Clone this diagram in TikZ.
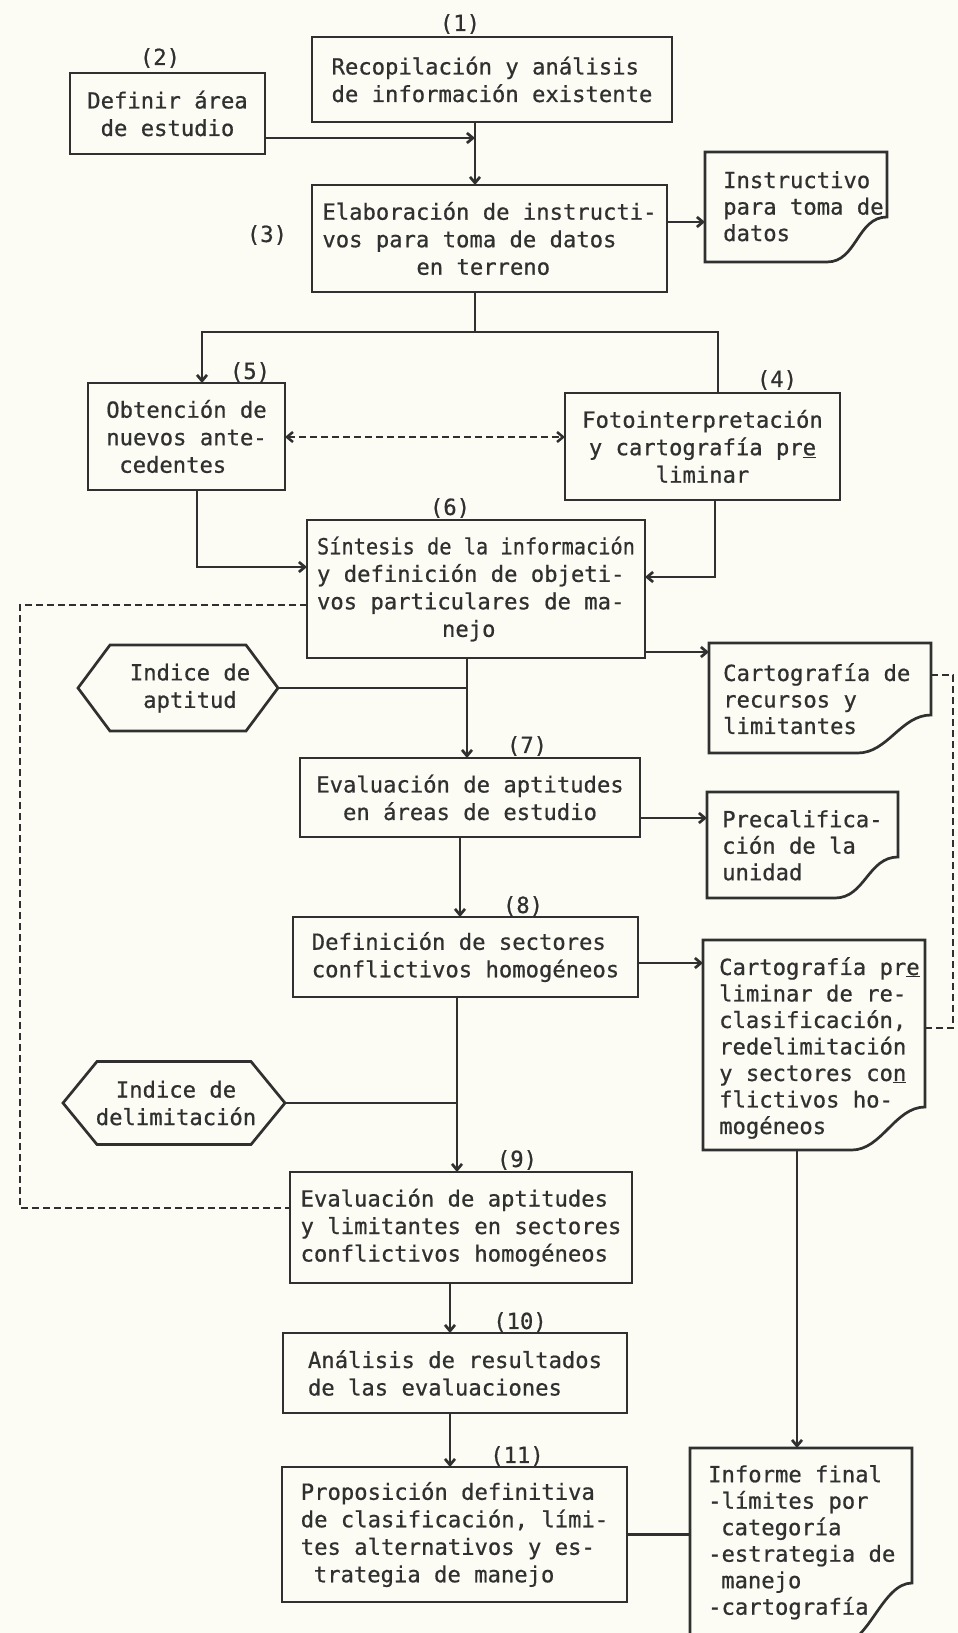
\documentclass[tikz,border=0pt]{standalone}
\usepackage{fontspec}
\usepackage{graphicx}
\newfontfamily\mono[FakeBold=0.7]{DejaVu Sans Mono}
\usetikzlibrary{arrows.meta,calc}
\definecolor{ink}{RGB}{48,48,48}
\definecolor{paper}{RGB}{252,252,245}
\newcommand\boxfont{\mono\fontsize{22.2}{27.5}\selectfont}
\newcommand\docfont{\mono\fontsize{22.2}{26.5}\selectfont}
\tikzset{
 ln/.style={draw=ink, line width=2.7pt},
 tipb/.tip={Straight Barb[length=6pt,width=10pt]},
 arr/.style={ln, -tipb},
 dsh/.style={ln, line width=2.5pt, dash pattern=on 7pt off 4pt},
 box/.style={draw=ink, line width=2.7pt, font=\boxfont, text=ink, inner sep=0pt, outer sep=0pt},
 shp/.style={inner sep=0pt, outer sep=0pt},
 txt/.style={font=\docfont, text=ink, align=left, inner sep=0pt},
 num/.style={font=\boxfont, text=ink, inner sep=0pt},
}
\newcommand\docoutline[2]{%
  \draw[ln] (#1.north west) -- (#1.north east) -- ([yshift=#2]#1.south east)
    .. controls ([xshift=-30pt,yshift=#2]#1.south east) and ($(#1.south west)!0.67!(#1.south east)+(30pt,0)$)
    .. ($(#1.south west)!0.67!(#1.south east)$) -- (#1.south west) -- cycle;}
\newcommand\hexoutline[2]{%
  \draw[ln] (#1.west) -- ([xshift=#2]#1.north west) -- ([xshift=-#2]#1.north east) -- (#1.east)
    -- ([xshift=-#2]#1.south east) -- ([xshift=#2]#1.south west) -- cycle;}
\begin{document}
\begin{tikzpicture}[x=1pt,y=-1pt]
\fill[paper] (0,0) rectangle (958,1633);
\useasboundingbox (0,0) rectangle (958,1633);

% process boxes
\node[box, align=left, minimum width=360, minimum height=85] (b1) at (492,79.5) {Recopilación y análisis\\de información existente};
\node[box, align=center, minimum width=195, minimum height=81] (b2) at (167.5,113.5) {Definir área\\de estudio};
\node[box, align=left, minimum width=355, minimum height=107] (b3) at (489.5,238.5) {Elaboración de instructi-\\vos para toma de datos\\\hspace*{94pt}en terreno};
\node[box, align=left, minimum width=197, minimum height=107] (b5) at (186.5,436.5) {Obtención de\\nuevos ante-\\\hspace*{13pt}cedentes};
\node[box, align=center, minimum width=275, minimum height=107] (b4) at (702.5,446.5) {Fotointerpretación\\y cartografía pr\underline{e}\\liminar};
\node[box, align=left, minimum width=338, minimum height=138] (b6) at (476,589) {\scalebox{0.915}[1]{Síntesis de la información}\\y definición de objeti-\\vos particulares de ma-\\\hspace*{125pt}nejo};
\node[box, align=center, minimum width=340, minimum height=79] (b7) at (470,797.5) {Evaluación de aptitudes\\en áreas de estudio};
\node[box, align=left, minimum width=345, minimum height=80] (b8) at (465.5,957) {Definición de sectores\\conflictivos homogéneos};
\node[box, align=left, minimum width=342, minimum height=111] (b9) at (461,1227.5) {Evaluación de aptitudes\\y limitantes en sectores\\conflictivos homogéneos};
\node[box, align=left, minimum width=344, minimum height=80] (b10) at (455,1373) {Análisis de resultados\\de las evaluaciones};
\node[box, align=left, minimum width=345, minimum height=135] (b11) at (454.5,1534.5) {Proposición definitiva\\de clasificación, lími-\\tes alternativos y es-\\\hspace*{13pt}trategia de manejo};

% step numbers
\node[num] (n1) at (460,24) {(1)};
\node[num] (n2) at (160,58) {(2)};
\node[num] (n3) at (267,235) {(3)};
\node[num] (n4) at (777,380) {(4)};
\node[num] (n5) at (250,372) {(5)};
\node[num] (n6) at (450,508) {(6)};
\node[num] (n7) at (527,746) {(7)};
\node[num] (n8) at (523,906) {(8)};
\node[num] (n9) at (517,1160) {(9)};
\node[num] (n10) at (520,1322) {(10)};
\node[num] (n11) at (517,1456) {(11)};

% documents
\node[shp, minimum width=182, minimum height=110] (d1) at (796,207) {};
\docoutline{d1}{45pt}
\node[txt, anchor=north west] (d1t) at (723,171) {Instructivo\\para toma de\\datos};
\node[shp, minimum width=222, minimum height=110] (d2) at (820,698) {};
\docoutline{d2}{38pt}
\node[txt, anchor=north west] (d2t) at (723,663) {Cartografía de\\recursos y\\limitantes};
\node[shp, minimum width=191, minimum height=106] (d3) at (802.5,845) {};
\docoutline{d3}{41pt}
\node[txt, anchor=north west] (d3t) at (722,810) {Precalifica-\\ción de la\\unidad};
\node[shp, minimum width=222, minimum height=210] (d4) at (814,1045) {};
\docoutline{d4}{43pt}
\node[txt, anchor=north west] (d4t) at (719,957) {Cartografía pr\underline{e}\\liminar de re-\\clasificación,\\redelimitación\\y sectores co\underline{n}\\flictivos ho-\\mogéneos};
\node[shp, minimum width=222, minimum height=197] (d5) at (801,1546.5) {};
\docoutline{d5}{62pt}
\node[txt, anchor=north west] (d5t) at (708,1465) {Informe final\\-límites por\\\hspace*{13pt}categoría\\-estrategia de\\\hspace*{13pt}manejo\\-cartografía};

% hexagons
\node[shp, minimum width=200, minimum height=86] (h1) at (178,688) {};
\hexoutline{h1}{32pt}
\node[num, align=center] (h1t) at (190,688) {Indice de\\aptitud};
\node[shp, minimum width=222, minimum height=83] (h2) at (174,1103) {};
\hexoutline{h2}{34pt}
\node[num, align=center] (h2t) at (176,1103) {Indice de\\delimitación};

% helper coordinates
\coordinate (xa) at (475,0);
\coordinate (j1) at (475,138);
\coordinate (ya) at (0,222);
\coordinate (jl) at (202,332);
\coordinate (jr) at (718,332);
\coordinate (yb) at (0,437);
\coordinate (c5) at (197,567);
\coordinate (c4) at (715,577);
\coordinate (yl) at (20,605);
\coordinate (yl2) at (20,1208);
\coordinate (x6) at (467,0);
\coordinate (yc) at (0,652);
\coordinate (rr1) at (953,675);
\coordinate (rr2) at (953,1028);
\coordinate (yd) at (0,818);
\coordinate (x7) at (460,0);
\coordinate (ye) at (0,963);
\coordinate (x8) at (457,0);
\coordinate (x9) at (450,0);
\coordinate (xr) at (797,0);

% connectors
\draw[arr] (xa |- b1.south) -- (xa |- b3.north);
\draw[arr] (b2.east |- j1) -- (j1);
\draw[arr] (b3.east |- ya) -- (d1.west |- ya);
\draw[ln] (xa |- b3.south) -- (xa |- jl);
\draw[arr] (jr |- b4.north) -- (jr) -- (jl) -- (jl |- b5.north);
\draw[dsh, tipb-tipb] (b5.east |- yb) -- (b4.west |- yb);
\draw[arr] (c5 |- b5.south) -- (c5) -- (b6.west |- c5);
\draw[arr] (c4 |- b4.south) -- (c4) -- (b6.east |- c4);
\draw[dsh] (b6.west |- yl) -- (yl) -- (yl2) -- (b9.west |- yl2);
\draw[arr] (x6 |- b6.south) -- (x6 |- b7.north);
\draw[ln] (h1.east) -- (x6 |- h1.east);
\draw[arr] (b6.east |- yc) -- (d2.west |- yc);
\draw[dsh] (d2.east |- rr1) -- (rr1) -- (rr2) -- (d4.east |- rr2);
\draw[arr] (b7.east |- yd) -- (d3.west |- yd);
\draw[arr] (x7 |- b7.south) -- (x7 |- b8.north);
\draw[arr] (b8.east |- ye) -- (d4.west |- ye);
\draw[arr] (x8 |- b8.south) -- (x8 |- b9.north);
\draw[ln] (h2.east) -- (x8 |- h2.east);
\draw[arr] (x9 |- b9.south) -- (x9 |- b10.north);
\draw[arr] (x9 |- b10.south) -- (x9 |- b11.north);
\draw[ln] (b11.east) -- (d5.west |- b11.east);
\draw[arr] (xr |- d4.south) -- (xr |- d5.north);
\end{tikzpicture}
\end{document}
